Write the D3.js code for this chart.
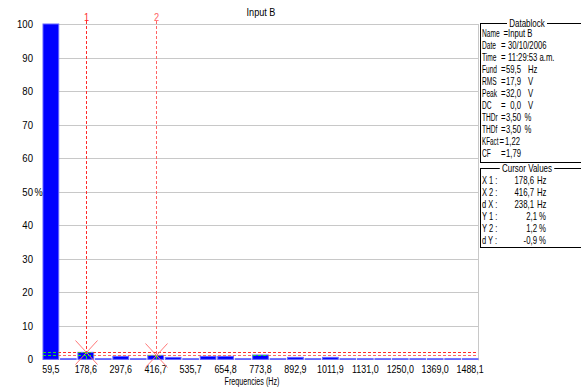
<!DOCTYPE html>
<html><head><meta charset="utf-8">
<script src="https://cdn.jsdelivr.net/npm/d3@7"></script>
<style>
body{margin:0;background:#fff;}
svg{display:block;font-family:"Liberation Sans",Arial,sans-serif;}
</style>
</head><body><svg id="c" width="581" height="388"></svg>
<script>
// ---- data ----
const harmonics = [1,2,3,4,5,6,7,8,9,10,11,12,13,14,15,16,17,18,19,20,21,22,23,24,25];
const values = [100,0.2,2.1,0.2,0.9,0.2,1.2,0.6,0.2,0.9,0.9,0.2,1.3,0.2,0.6,0.2,0.6,0.2,0.2,0.2,0.2,0.2,0.2,0.2,0.2];
const tickHarmonics = [1,3,5,7,9,11,13,15,17,19,21,23,25];
const tickLabels = ["59,5","178,6","297,6","416,7","535,7","654,8","773,8","892,9","1011,9","1131,0","1250,0","1369,0","1488,1"];
const yTicks = [0,10,20,30,40,50,60,70,80,90,100];
const cursorNames = ["1","2"];
const cursorHarmonics = [3,7];
const cursorValues = [2.1,1.2];
const dbLabels = ["Name","Date","Time","Fund","RMS","Peak","DC","THDr","THDf","KFact","CF"];
const dbValues = ["Input B","30/10/2006","11:29:53 a.m.","59,5","17,9","32,0","0,0","3,50","3,50","1,22","1,79"];
const dbUnits = ["","","","Hz","V","V","V","%","%","",""];
const cvLabels = ["X 1 :","X 2 :","d X :","Y 1 :","Y 2 :","d Y :"];
const cvValues = ["178,6","416,7","238,1","2,1","1,2","-0,9"];
const cvUnits = ["Hz","Hz","Hz","%","%","%"];

// ---- layout ----
const L = 43, R = 478, T = 24, B = 359.4;
const svg = d3.select("#c");
const x = d3.scaleBand().domain(harmonics).range([L, R]).paddingInner(0.1).paddingOuter(0);
const y = d3.scaleLinear().domain([0, 100]).range([B, T]);
const bw = x.bandwidth();

function txt(g, px, py, s, o) {
  o = o || {};
  return g.append("text")
    .attr("transform", `translate(${px},${py}) scale(${o.sx || 0.8},1)`)
    .attr("text-anchor", o.anchor || "start")
    .attr("dy", "0.35em")
    .attr("font-size", (o.size || 10) + "px")
    .attr("fill", o.fill || "#000")
    .style("white-space", "pre")
    .text(s);
}

// grid
const grid = svg.append("g");
yTicks.filter(d => d > 0).forEach(d => {
  const yy = Math.round(y(d)) + 0.5;
  grid.append("line").attr("x1", L).attr("x2", R).attr("y1", yy).attr("y2", yy)
    .attr("stroke", "#c8c8c8").attr("stroke-width", 1);
});
grid.append("line").attr("x1", R + 0.5).attr("x2", R + 0.5).attr("y1", T).attr("y2", B + 1)
  .attr("stroke", "#c8c8c8");

// bars
const bars = svg.append("g");
bars.selectAll("rect").data(harmonics).join("rect")
  .attr("x", h => x(h)).attr("width", bw)
  .attr("y", (h, i) => y(values[i]))
  .attr("height", (h, i) => B - y(values[i]))
  .attr("fill", "#0000ff").attr("stroke", "#6464ff").attr("stroke-width", 1);

// clip for XOR-like green over bars
const defs = svg.append("defs");
const clip = defs.append("clipPath").attr("id", "barclip");
clip.selectAll("rect").data(harmonics).join("rect")
  .attr("x", h => x(h)).attr("width", bw)
  .attr("y", (h, i) => y(values[i]))
  .attr("height", (h, i) => B - y(values[i]));

// y axis
const yAxis = svg.append("g").attr("transform", `translate(${L},0)`)
  .call(d3.axisLeft(y).tickValues(yTicks).tickSize(0).tickPadding(11.5).tickFormat(d3.format("d")));
yAxis.select(".domain").remove();
yAxis.selectAll("text").attr("font-size", "11px").attr("font-family", "Liberation Sans, Arial, sans-serif")
  .attr("fill", "#000").attr("transform", "scale(0.87,1)");
txt(svg, 34.5, y(50), "%", { size: 11, sx: 0.84 });

// x axis (band scale: axis already centres ticks in the band)
const xAxis = svg.append("g").attr("transform", `translate(0,${B})`)
  .call(d3.axisBottom(x).tickValues(tickHarmonics).tickSize(0).tickPadding(6)
    .tickFormat(h => tickLabels[tickHarmonics.indexOf(h)]));
xAxis.select(".domain").remove();
xAxis.selectAll("text").attr("font-size", "11px").attr("font-family", "Liberation Sans, Arial, sans-serif")
  .attr("fill", "#000").attr("transform", "scale(0.81,1)");

// cursors
const cur = svg.append("g");
const curGreen = svg.append("g").attr("clip-path", "url(#barclip)");
cursorHarmonics.forEach((h, i) => {
  const cx = Math.round(x(h) + bw / 2) + 0.5;
  const cy = Math.round(y(cursorValues[i])) + 0.5;
  const col = i === 0 ? "#ff2a2a" : "#ff6464";
  cur.append("line").attr("x1", cx).attr("x2", cx).attr("y1", 21).attr("y2", B)
    .attr("stroke", col).attr("stroke-dasharray", "3,2");
  cur.append("line").attr("x1", L).attr("x2", R).attr("y1", cy).attr("y2", cy)
    .attr("stroke", col).attr("stroke-dasharray", "3,2");
  curGreen.append("line").attr("x1", cx).attr("x2", cx).attr("y1", 21).attr("y2", B)
    .attr("stroke", "#22dd22").attr("stroke-dasharray", "3,2");
  curGreen.append("line").attr("x1", L).attr("x2", R).attr("y1", cy).attr("y2", cy)
    .attr("stroke", "#22dd22").attr("stroke-dasharray", "3,2");
  cur.append("line").attr("x1", cx - 11).attr("x2", cx + 11).attr("y1", cy - 12).attr("y2", cy + 12)
    .attr("stroke", "#ff7878");
  cur.append("line").attr("x1", cx - 11).attr("x2", cx + 11).attr("y1", cy + 12).attr("y2", cy - 12)
    .attr("stroke", "#ff7878");
  txt(cur, cx, 17, cursorNames[i], { size: 11, sx: 0.84, anchor: "middle", fill: col });
});

// titles
txt(svg, 261, 12, "Input B", { size: 11, sx: 0.83, anchor: "middle" });
txt(svg, 252, 381, "Frequencies (Hz)", { size: 11, sx: 0.65, anchor: "middle" });

// data block
const db = svg.append("g");
function box(top, bottom, title) {
  db.append("rect").attr("x", 480.5).attr("y", top + 0.5).attr("width", 110).attr("height", bottom - top)
    .attr("fill", "#fff").attr("stroke", "#000");
  const t = txt(db, 527, top, " " + title + " ", { size: 10, sx: 0.8, anchor: "middle" });
  const w = t.node().getBBox().width * 0.8;
  db.insert("rect", () => t.node()).attr("x", 527 - w / 2).attr("y", top - 4).attr("width", w).attr("height", 8).attr("fill", "#fff");
}
box(23, 162, "Datablock");
dbLabels.forEach((l, i) => {
  const yy = 33 + i * 12;
  const isK = l === "KFact";
  txt(db, 482, yy, l, { size: 10, sx: isK ? 0.63 : 0.66 });
  txt(db, l === "Name" ? 503.5 : (isK ? 499.5 : 501), yy, "=", { size: 10, sx: 0.78 });
  if (i < 3) txt(db, 508, yy, dbValues[i], { size: 10, sx: 0.77 });
  else txt(db, isK ? 520 : 521, yy, dbValues[i], { size: 10, sx: 0.77, anchor: "end" });
  if (dbUnits[i]) txt(db, dbUnits[i] === "%" ? 524.5 : 528, yy, dbUnits[i], { size: 10, sx: 0.77 });
});
box(168, 247, "Cursor Values");
cvLabels.forEach((l, i) => {
  const yy = 180 + i * 12;
  txt(db, 482, yy, l, { size: 10, sx: 0.75 });
  txt(db, cvUnits[i] === "Hz" ? 534 : 537, yy, cvValues[i], { size: 10, sx: 0.78, anchor: "end" });
  txt(db, cvUnits[i] === "Hz" ? 537 : 539, yy, cvUnits[i], { size: 10, sx: 0.78 });
});
</script>
</body></html>
